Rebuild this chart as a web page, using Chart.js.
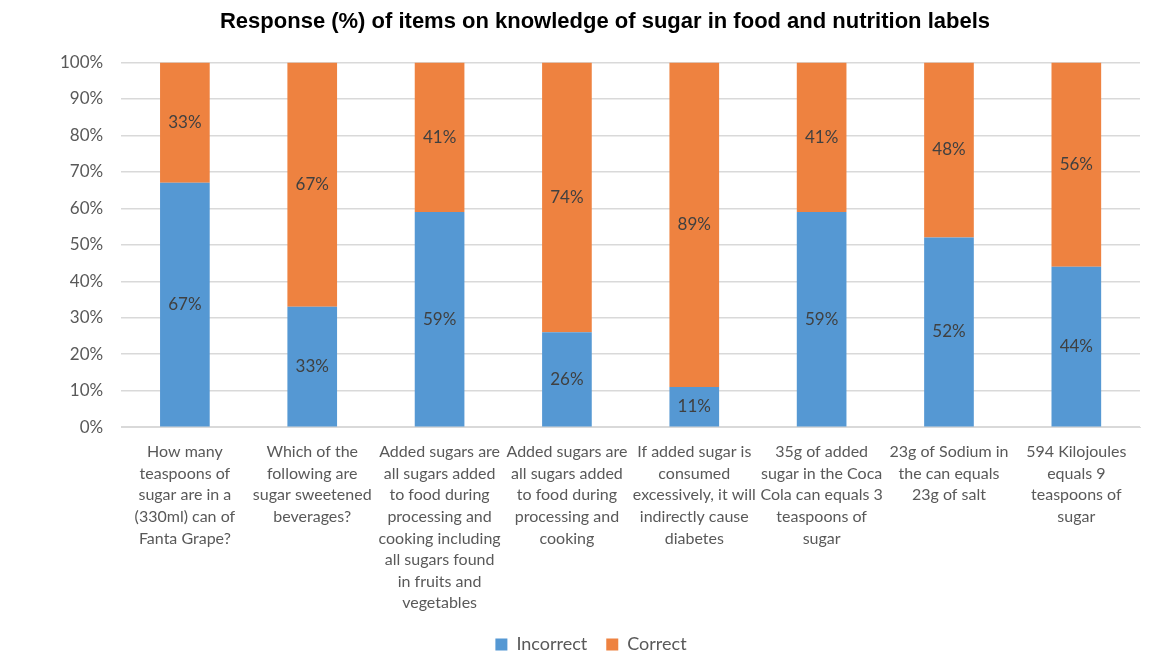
<!DOCTYPE html>
<html lang="en">

<head>
    <meta charset="UTF-8">
    <title>Response (%) of items on knowledge of sugar</title>
    <script src="https://cdn.jsdelivr.net/npm/chart.js"></script>
    <style>
        body { margin: 0; background: #fff; }
        #wrap { width: 1156px; height: 653px; }
    </style>
</head>

<body>

    <div id="wrap">
        <canvas id="chartSugar"></canvas>
    </div>

    <script>
        const questions = [
            ['How many', 'teaspoons of', 'sugar are in a', '(330ml) can of', 'Fanta Grape?'],
            ['Which of the', 'following are', 'sugar sweetened', 'beverages?'],
            ['Added sugars are', 'all sugars added', 'to food during', 'processing and', 'cooking including', 'all sugars found', 'in fruits and', 'vegetables'],
            ['Added sugars are', 'all sugars added', 'to food during', 'processing and', 'cooking'],
            ['If added sugar is', 'consumed', 'excessively, it will', 'indirectly cause', 'diabetes'],
            ['35g of added', 'sugar in the Coca', 'Cola can equals 3', 'teaspoons of', 'sugar'],
            ['23g of Sodium in', 'the can equals', '23g of salt'],
            ['594 Kilojoules', 'equals 9', 'teaspoons of', 'sugar']
        ];
        const incorrect = [67, 33, 59, 26, 11, 59, 52, 44];
        const correct = [33, 67, 41, 74, 89, 41, 48, 56];

        const tickFont = "Lato, 'Open Sans', sans-serif";

        // percent labels in the middle of each segment
        const barLabels = {
            id: 'barLabels',
            afterLayout(chart) {
                // nudge title right and legend down, like the original
                chart.titleBlock.left += 14;
                chart.titleBlock.right += 14;
                const lg = chart.legend;
                const shift = 653 - 13 - lg.top - lg.height / 2;
                lg.top += shift;
                lg.bottom += shift;
            },
            afterDatasetsDraw(chart) {
                const ctx = chart.ctx;
                ctx.save();
                ctx.font = '17px ' + tickFont;
                ctx.fillStyle = '#404040';
                ctx.textAlign = 'center';
                ctx.textBaseline = 'middle';
                chart.data.datasets.forEach((ds, i) => {
                    chart.getDatasetMeta(i).data.forEach((bar, j) => {
                        const p = bar.getProps(['x', 'y', 'base'], true);
                        ctx.fillText(ds.data[j] + '%', p.x, (p.y + p.base) / 2);
                    });
                });
                ctx.restore();
            }
        };

        new Chart(document.getElementById('chartSugar').getContext('2d'), {
            type: 'bar',
            data: {
                labels: questions,
                datasets: [{
                    label: 'Incorrect',
                    data: incorrect,
                    backgroundColor: '#5598d3'
                }, {
                    label: 'Correct',
                    data: correct,
                    backgroundColor: '#ee8240'
                }]
            },
            options: {
                responsive: true,
                maintainAspectRatio: false,
                animation: false,
                categoryPercentage: 1,
                barPercentage: 0.39,
                layout: { padding: { left: 42, right: 16, top: 0, bottom: -14 } },
                plugins: {
                    title: {
                        display: true,
                        text: 'Response (%) of items on knowledge of sugar in food and nutrition labels',
                        font: { family: "'Liberation Sans', Arial, sans-serif", size: 22, weight: 'bold' },
                        color: '#000',
                        padding: { top: 9, bottom: 27 }
                    },
                    legend: {
                        position: 'bottom',
                        labels: {
                            boxWidth: 12,
                            boxHeight: 12,
                            font: { family: tickFont, size: 18 },
                            color: '#595959',
                            padding: 19
                        }
                    },
                    tooltip: { enabled: false }
                },
                scales: {
                    x: {
                        stacked: true,
                        grid: { display: false },
                        border: { color: '#d9d9d9' },
                        ticks: {
                            maxRotation: 0,
                            autoSkip: false,
                            color: '#595959',
                            font: { family: tickFont, size: 16, lineHeight: 1.35 },
                            padding: 6
                        }
                    },
                    y: {
                        stacked: true,
                        min: 0,
                        max: 100,
                        border: { display: false },
                        grid: { color: '#d9d9d9', lineWidth: 1.5, drawTicks: false },
                        ticks: {
                            stepSize: 10,
                            padding: 18,
                            color: '#595959',
                            font: { family: tickFont, size: 17 },
                            callback: v => v + '%'
                        }
                    }
                }
            },
            plugins: [barLabels]
        });
    </script>

</body>

</html>
